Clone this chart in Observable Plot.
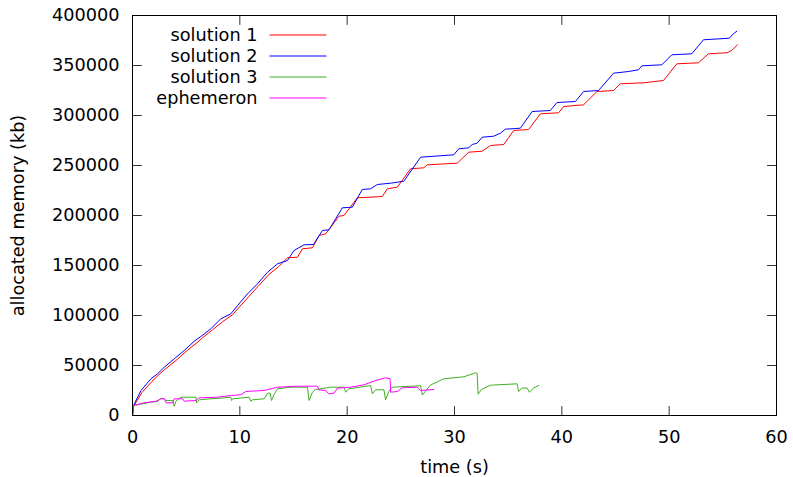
<!DOCTYPE html>
<html>
<head>
<meta charset="utf-8">
<script src="https://cdn.jsdelivr.net/npm/d3@7"></script>
<script src="https://cdn.jsdelivr.net/npm/@observablehq/plot@0.6"></script>
<style>
  html, body { margin: 0; padding: 0; background: #ffffff; }
  #chart { width: 793px; height: 477px; }
</style>
</head>
<body>
<div id="chart"></div>
<script>
// Series names and colours
const seriesNames = ["solution 1", "solution 2", "solution 3", "ephemeron"];
const seriesColors = ["#ff0000", "#0000ff", "#3fb022", "#ff00ff"];

// solution 1 (red)
const time1 = [0, 0.1, 0.88, 1.81, 2.47, 3.12, 4.05, 4.98, 5.91, 6.56, 7.49, 8.42, 9.35, 9.91, 10.84, 11.77, 12.70, 13.63, 14.44, 15.37, 15.83, 16.76, 17.38, 18.0, 19.24, 19.70, 20.95, 23.27, 23.74, 24.67, 25.91, 27.14, 27.46, 30.25, 31.33, 32.58, 33.35, 34.59, 35.52, 36.91, 38.0, 39.70, 40.17, 42.03, 43.27, 44.82, 45.44, 47.61, 49.47, 50.72, 52.73, 53.66, 55.37, 55.83, 56.35];
const mem1 = [0, 9000, 23000, 34000, 41000, 47000, 55000, 64000, 72000, 78000, 86000, 94000, 101000, 108000, 119000, 130000, 141000, 149000, 157700, 158300, 166700, 167700, 180000, 181700, 199300, 200000, 217700, 219000, 226700, 228300, 246700, 247700, 250700, 252300, 263300, 264300, 270000, 271000, 285000, 286000, 301700, 302700, 309000, 310700, 324000, 325000, 331700, 332700, 335000, 351700, 352700, 361700, 362700, 365000, 370700];

// solution 2 (blue)
const time2 = [0, 0.1, 0.79, 1.72, 2.34, 2.96, 3.89, 4.82, 5.75, 6.37, 7.30, 8.23, 9.16, 9.79, 10.72, 11.65, 12.58, 13.51, 14.44, 15.05, 15.98, 16.86, 17.69, 18.31, 19.55, 20.48, 21.41, 22.19, 22.81, 24.05, 25.28, 26.84, 29.93, 30.40, 31.33, 31.65, 32.11, 32.58, 33.66, 34.28, 34.74, 36.14, 37.23, 38.93, 39.55, 41.26, 42.03, 43.42, 44.82, 46.21, 47.14, 47.46, 49.32, 50.25, 52.11, 53.19, 55.61, 55.98, 56.30];
const mem2 = [0, 10000, 25000, 36700, 41700, 48300, 56700, 65000, 74300, 79000, 86700, 96700, 101700, 110000, 121700, 131700, 143300, 151700, 155000, 165000, 170700, 171000, 185000, 185700, 207700, 208300, 226000, 226700, 231000, 232300, 234300, 258300, 260700, 266700, 267700, 271000, 272300, 278300, 279300, 282300, 286300, 287300, 304000, 305000, 313000, 314000, 324000, 325000, 342300, 344000, 345700, 349700, 350700, 360700, 361700, 375700, 377300, 381700, 384300];

// solution 3 (green)
const time3 = [0, 0.1, 1.72, 2.34, 2.65, 2.96, 3.12, 3.74, 3.89, 4.05, 4.20, 4.51, 5.91, 5.97, 6.21, 7.30, 8.23, 9.16, 9.23, 9.32, 10.87, 11.02, 11.18, 12.26, 12.58, 12.82, 12.95, 13.19, 13.51, 14.74, 16.30, 16.45, 16.76, 17.07, 18.47, 19.70, 19.86, 20.17, 22.19, 22.34, 22.65, 23.42, 23.58, 23.89, 24.20, 26.84, 27.0, 27.30, 27.77, 29.0, 30.87, 31.95, 32.11, 32.2, 32.5, 33.35, 35.83, 35.98, 36.30, 36.76, 36.98, 37.38, 37.84];
const mem3 = [0, 10000, 13300, 14000, 17300, 16700, 15000, 15000, 9300, 14300, 15700, 18300, 18300, 12700, 15700, 16700, 17300, 18300, 15000, 16700, 18300, 14300, 15700, 16700, 22300, 22300, 15000, 21000, 26700, 28300, 28300, 15000, 23300, 26000, 28300, 28300, 23300, 26700, 30000, 21700, 25700, 25700, 15700, 24300, 28300, 29700, 20500, 24300, 30500, 36700, 38700, 42700, 42000, 21300, 26000, 30300, 31700, 24000, 27500, 27500, 23300, 27500, 30000];

// ephemeron (magenta)
const time4 = [0, 0.1, 1.10, 2.19, 2.65, 2.96, 3.12, 3.74, 3.89, 4.67, 4.82, 5.91, 6.21, 7.93, 9.16, 10.09, 10.56, 11.02, 12.26, 12.88, 13.51, 15.37, 17.23, 17.38, 18.0, 18.28, 18.77, 19.09, 20.33, 21.56, 22.65, 23.58, 24.0, 24.05, 24.67, 25.13, 26.53, 26.84, 28.07];
const mem4 = [0, 10000, 12700, 14300, 16700, 16700, 12700, 12700, 16700, 16700, 14300, 15000, 17700, 18300, 20000, 20700, 24000, 24300, 25000, 26700, 28300, 29300, 29300, 25700, 25000, 21700, 22300, 27300, 28300, 30700, 35000, 37700, 36700, 23300, 24000, 27700, 28300, 25000, 26000];

// Tick values and axis titles
const xTicks = [0, 10, 20, 30, 40, 50, 60];
const yTicks = [0, 50000, 100000, 150000, 200000, 250000, 300000, 350000, 400000];
const xTitle = "time (s)";
const yTitle = "allocated memory (kb)";

// Build the table for Plot
const seriesData = [[time1, mem1], [time2, mem2], [time3, mem3], [time4, mem4]];
const rows = [];
seriesData.forEach(([t, m], k) => {
  t.forEach((ti, i) => rows.push({series: seriesNames[k], time: ti, mem: m[i]}));
});

const marginLeft = 132, marginRight = 17, marginTop = 15, marginBottom = 62;
const tickLen = 9;
// straight segment shapes for the vector mark (no rotation needed)
const segUp = {draw(c, l) { c.moveTo(0, 0); c.lineTo(0, -l); }};
const segDown = {draw(c, l) { c.moveTo(0, 0); c.lineTo(0, l); }};
const segRight = {draw(c, l) { c.moveTo(0, 0); c.lineTo(l, 0); }};
const segLeft = {draw(c, l) { c.moveTo(0, 0); c.lineTo(-l, 0); }};

const marks = [];
// data lines, drawn in series order
seriesNames.forEach((name) => {
  marks.push(Plot.line(rows.filter(d => d.series === name), {
    x: "time", y: "mem", stroke: "series", strokeWidth: 1
  }));
});

// inward ticks on all four sides (gnuplot style)
const tickStyle = {length: tickLen, anchor: "start", stroke: "#333", strokeWidth: 1};
marks.push(Plot.vector(xTicks, {x: d => d, frameAnchor: "bottom", shape: segUp, ...tickStyle}));
marks.push(Plot.vector(xTicks, {x: d => d, frameAnchor: "top", shape: segDown, ...tickStyle}));
marks.push(Plot.vector(yTicks, {y: d => d, frameAnchor: "left", shape: segRight, ...tickStyle}));
marks.push(Plot.vector(yTicks, {y: d => d, frameAnchor: "right", shape: segLeft, ...tickStyle}));

// tick labels
marks.push(Plot.axisX({ticks: xTicks, tickSize: 0, tickPadding: 15, tickFormat: d => String(d), label: null}));
marks.push(Plot.axisY({ticks: yTicks, tickSize: 0, tickPadding: 13, tickFormat: d => String(d), label: null}));

// axis titles
marks.push(Plot.text([yTitle], {text: d => d, frameAnchor: "left", rotate: -90, dx: -114, textAnchor: "middle", lineAnchor: "middle"}));
marks.push(Plot.text([xTitle], {text: d => d, frameAnchor: "bottom", dy: 52, textAnchor: "middle", lineAnchor: "middle"}));

// legend (inside top-left of the frame); line colour goes through the color scale
seriesNames.forEach((name, i) => {
  const dy = 20 + 21 * i;
  marks.push(Plot.text([name], {text: d => d, frameAnchor: "top-left", dx: 125, dy, textAnchor: "end", lineAnchor: "middle"}));
  marks.push(Plot.vector([name], {frameAnchor: "top-left", dx: 137.5, dy: dy - 0.5, length: 56, anchor: "start", shape: segRight, stroke: d => d, strokeWidth: 1.2}));
});

// frame
marks.push(Plot.frame({stroke: "black", strokeWidth: 1}));

const chart = Plot.plot({
  width: 793,
  height: 477,
  marginLeft, marginRight, marginTop, marginBottom,
  style: {fontFamily: "'DejaVu Sans', sans-serif", fontSize: "17.7px", background: "#ffffff", color: "black"},
  x: {domain: [0, 60], axis: null},
  y: {domain: [0, 400000], axis: null},
  color: {type: "ordinal", domain: seriesNames, range: seriesColors},
  marks
});
document.getElementById("chart").appendChild(chart);
</script>
</body>
</html>
